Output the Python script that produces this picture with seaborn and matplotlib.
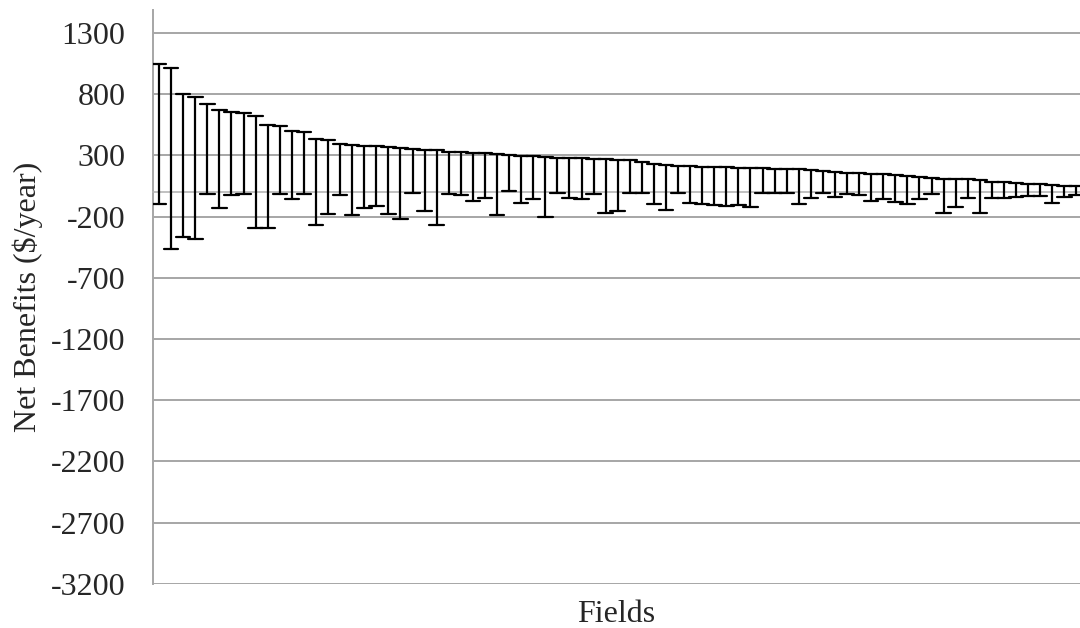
import numpy as np
import pandas as pd
import seaborn as sns
import matplotlib.pyplot as plt

# net benefit range per field ($/year)
upper = [1050, 1015, 804, 776, 717, 670, 654, 650, 621, 545,
         540, 498, 493, 431, 425, 392, 382, 380, 373, 365,
         360, 349, 347, 341, 330, 328, 322, 316, 308, 302,
         294, 292, 290, 281, 280, 275, 273, 267, 265, 262,
         245, 232, 221, 216, 210, 204, 203, 202, 200, 197,
         194, 191, 188, 185, 177, 172, 163, 158, 153, 148,
         145, 139, 131, 123, 112, 109, 107, 104, 96, 85,
         82, 77, 69, 63, 57, 49, 47]
lower = [-95, -468, -368, -386, -19, -127, -24, -19, -291, -297,
         -19, -60, -19, -270, -176, -25, -188, -133, -114, -176,
         -217, -11, -155, -272, -13, -25, -70, -51, -188, 8,
         -92, -54, -201, -11, -51, -60, -16, -168, -155, -6,
         -5, -100, -150, -5, -92, -100, -109, -114, -109, -119,
         -5, -5, -5, -100, -46, -5, -41, -19, -27, -72,
         -60, -82, -95, -60, -19, -168, -123, -51, -168, -46,
         -46, -38, -33, -33, -87, -38, -27]
fields = [str(i + 1) for i in range(len(upper))]
y_ticks = [1300, 800, 300, -200, -700, -1200, -1700, -2200, -2700, -3200]

df = pd.DataFrame({
    "field": fields * 2,
    "value": upper + lower,
})

sns.set_style("white")
plt.rcParams["font.family"] = ["Liberation Serif", "DejaVu Serif"]
plt.rcParams["font.size"] = 23

fig = plt.figure(figsize=(10.8, 6.28), dpi=100)
ax = fig.add_axes([0.1417, 0.0705, 0.8583, 0.914])

sns.pointplot(data=df, x="field", y="value", order=fields,
              estimator="mean",
              errorbar=lambda v: (v.min(), v.max()),
              color="black", marker="", linestyle="none",
              capsize=1.2, err_kws={"linewidth": 1.6},
              ax=ax, zorder=3)

# horizontal gridlines + y axis
ax.set_ylim(-3200, 1490)
ax.set_yticks(y_ticks)
ax.set_yticklabels([str(t) for t in y_ticks])
ax.yaxis.grid(True, color="#a6a6a6", linewidth=1.4)
ax.xaxis.grid(False)
ax.set_axisbelow(True)
ax.tick_params(axis="y", direction="out", length=7, width=1.2,
               color="#a6a6a6", labelsize=23, pad=13)

# category axis sits at zero, tick every 5 fields
ax.set_xlim(-0.5, 76.3)
ax.set_xticks(np.arange(4.5, len(fields), 5))
ax.set_xticklabels([])
ax.spines["bottom"].set_position(("data", 0))
ax.spines["bottom"].set_color("#b5b5b5")
ax.spines["bottom"].set_linewidth(1.2)
ax.tick_params(axis="x", direction="out", length=5, width=1.2,
               color="#b5b5b5")
ax.spines["left"].set_color("#a6a6a6")
ax.spines["left"].set_linewidth(1.4)
ax.spines["right"].set_visible(False)
ax.spines["top"].set_visible(False)

ax.set_xlabel("Fields", fontsize=23)
ax.xaxis.set_label_coords(0.5, -0.029, transform=ax.transAxes)
ax.xaxis.label.set_verticalalignment("top")
ax.set_ylabel("Net Benefits ($/year)", fontsize=23)
ax.yaxis.set_label_coords(-0.135, 0.5, transform=ax.transAxes)
ax.yaxis.label.set_verticalalignment("center")

plt.savefig("out.png", dpi=100)
plt.close()
